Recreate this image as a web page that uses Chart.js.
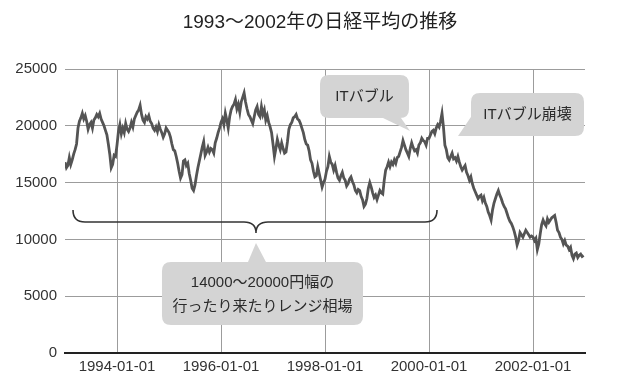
<!DOCTYPE html>
<html>
<head>
<meta charset="utf-8">
<script src="https://cdn.jsdelivr.net/npm/chart.js@4.4.1/dist/chart.umd.min.js"></script>
<style>
  html, body { margin: 0; padding: 0; background: #ffffff; }
  #wrap { width: 640px; height: 389px; }
</style>
</head>
<body>
<div id="wrap"><canvas id="c" width="640" height="389"></canvas></div>
<script>
// ---- data (Nikkei 225, roughly 3 readings per month) ----
const startYear = 1993;
const pointsPerYear = 36;
const nikkei1993 = [16800,16300,16500, 17200,16600,17000, 17500,17900,18400, 19800,20400,20700, 21100,20600,20900, 20400,19700,20100, 20300,19800,20500, 20700,21000,20800, 21100,20600,20300, 20000,19600,19200, 18400,17500,16300, 16600,17400,17300];
const nikkei1994 = [18300,19500,20100, 19300,19800,19400, 20200,19700,19500, 19800,20300,19900, 20600,20900,21200, 21400,21800,21000, 20500,20300,20800, 20600,20900,20400, 20200,19800,19600, 19900,19500,20100, 19700,19400,19000, 19300,19800,19600];
const nikkei1995 = [19400,19000,18400, 17900,17800,17300, 16700,16000,15400, 15700,16900,17000, 16500,16700,15800, 15200,14500,14300, 14800,15600,16300, 16900,17500,18100, 18600,17400,17700, 18100,17700,18000, 17900,17600,18500, 18900,19400,19800];
const nikkei1996 = [20300,20600,20100, 21100,20500,19800, 20800,21400,21700, 21900,22300,21500, 21900,21200,22100, 22500,22900,22100, 21500,21000,20800, 20500,20200,20800, 21400,21700,21000, 20800,21700,21000, 21400,20500,20900, 20300,19900,19400];
const nikkei1997 = [18400,17300,18000, 18800,18300,17900, 18500,18000,17600, 17700,18600,19700, 20100,20300,20700, 20800,21000,20600, 20500,20200,19800, 19400,18800,18400, 18300,17800,17000, 16700,16000,15500, 15600,16400,15800, 15200,14600,15000];
const nikkei1998 = [15300,16000,16400, 17300,16800,16600, 16100,16500,15900, 15400,15200,15600, 15900,15400,15200, 14700,14900,15300, 15500,15100,14800, 14300,14100,14400, 14300,13800,13500, 12900,13100,13600, 14500,15000,14600, 14100,13700,13900];
const nikkei1999 = [13500,13900,14300, 14100,14000,15200, 16100,16400,16800, 16400,16800,16600, 17000,16700,17200, 17300,17700,18100, 18700,18300,17900, 17600,17300,18000, 18500,18100,17800, 17900,17600,18300, 18500,18900,18700, 18600,18300,18900];
const nikkei2000 = [18900,19200,19500, 19600,19300,19800, 20100,19900,20400, 21100,19900,18300, 17900,17200,17000, 17300,17600,17100, 17200,16900,17300, 16800,16400,16100, 16300,16500,15900, 15600,15200,15500, 14900,14500,14200, 13900,13600,13800];
const nikkei2001 = [13900,13400,13700, 13200,12900,12400, 12100,11700,12600, 13200,13600,14000, 14300,13900,13600, 13200,12900,12700, 12300,11900,11600, 11400,11100,10700, 10200,9500,9900, 10600,10400,10200, 10500,10800,10600, 10400,10200,10300];
const nikkei2002 = [10200,9900,10100, 9100,9600,10500, 11300,11700,11400, 11200,11800,11500, 11700,11900,12000, 12100,11500,10800, 10600,10200,10000, 9600,9900,9500, 9400,9100,9300, 8600,8300,8700, 8800,8400,8600, 8700,8500,8600];
const yearlySeries = [nikkei1993, nikkei1994, nikkei1995, nikkei1996, nikkei1997, nikkei1998, nikkei1999, nikkei2000, nikkei2001, nikkei2002];

const xTickYears = [1994, 1996, 1998, 2000, 2002];
const xTickLabels = ['1994-01-01', '1996-01-01', '1998-01-01', '2000-01-01', '2002-01-01'];
const yTicks = [0, 5000, 10000, 15000, 20000, 25000];

const titleText = '1993～2002年の日経平均の推移';
const rangeLines = ['14000～20000円幅の', '行ったり来たりレンジ相場'];
const bubbleText = 'ITバブル';
const crashText = 'ITバブル崩壊';

const points = yearlySeries.flatMap((arr, yi) =>
  arr.map((v, i) => ({ x: startYear + yi + i / pointsPerYear, y: v })));

const FONT = '"Liberation Sans", "Noto Sans CJK JP", Arial, sans-serif';

// ---- annotations, positioned in data units (year, yen) ----
const notes = {
  brace: { x0: 1993.154, x1: 2000.154, xm: 1996.673, y: 11530 },
  range: { x0: 1994.865, x1: 1998.731, top: 8010, bottom: 2465,
           tail: [[1996.519, 8010], [1996.673, 9683], [1996.865, 8010]],
           tx: 1996.798, ty: [6162, 4049] },
  bubble: { x0: 1997.904, x1: 1999.615, top: 24472, bottom: 20687,
            tail: [[1999.115, 20687], [1999.635, 19542], [1999.462, 20687]],
            tx: 1998.76, ty: 22535 },
  crash: { x0: 2000.808, x1: 2002.981, top: 22887, bottom: 19102,
           tail: [[2000.846, 21039], [2000.558, 19102], [2001.212, 19102]],
           tx: 2001.894, ty: 20951 }
};

function roundRect(ctx, x, y, w, h, r) {
  ctx.moveTo(x + r, y);
  ctx.lineTo(x + w - r, y);
  ctx.quadraticCurveTo(x + w, y, x + w, y + r);
  ctx.lineTo(x + w, y + h - r);
  ctx.quadraticCurveTo(x + w, y + h, x + w - r, y + h);
  ctx.lineTo(x + r, y + h);
  ctx.quadraticCurveTo(x, y + h, x, y + h - r);
  ctx.lineTo(x, y + r);
  ctx.quadraticCurveTo(x, y, x + r, y);
  ctx.closePath();
}

const annotationPlugin = {
  id: 'notes',
  afterDatasetsDraw(chart) {
    const ctx = chart.ctx;
    const xs = chart.scales.x, ys = chart.scales.y;
    const px = v => xs.getPixelForValue(v);
    const py = v => ys.getPixelForValue(v);
    ctx.save();

    // brace
    const b = notes.brace;
    const xL = px(b.x0), xR = px(b.x1), xM = px(b.xm), yH = py(b.y);
    const r = 12;
    ctx.beginPath();
    ctx.moveTo(xL, yH - r);
    ctx.quadraticCurveTo(xL, yH, xL + r, yH);
    ctx.lineTo(xM - r, yH);
    ctx.quadraticCurveTo(xM, yH, xM, yH + 11);
    ctx.quadraticCurveTo(xM, yH, xM + r, yH);
    ctx.lineTo(xR - r, yH);
    ctx.quadraticCurveTo(xR, yH, xR, yH - r);
    ctx.strokeStyle = '#333333';
    ctx.lineWidth = 1.6;
    ctx.stroke();

    // callouts
    const callout = (c) => {
      const x0 = px(c.x0), x1 = px(c.x1), y0 = py(c.top), y1 = py(c.bottom);
      ctx.fillStyle = '#d4d4d4';
      ctx.beginPath();
      roundRect(ctx, x0, y0, x1 - x0, y1 - y0, 9);
      ctx.fill();
      ctx.beginPath();
      c.tail.forEach((p, i) => {
        const X = px(p[0]), Y = py(p[1]);
        if (i === 0) ctx.moveTo(X, Y); else ctx.lineTo(X, Y);
      });
      ctx.closePath();
      ctx.fill();
    };
    callout(notes.range);
    callout(notes.bubble);
    callout(notes.crash);

    ctx.fillStyle = '#2b2b2b';
    ctx.font = '15px ' + FONT;
    ctx.textAlign = 'center';
    ctx.textBaseline = 'middle';
    rangeLines.forEach((t, i) => ctx.fillText(t, px(notes.range.tx), py(notes.range.ty[i])));
    ctx.fillText(bubbleText, px(notes.bubble.tx), py(notes.bubble.ty));
    ctx.fillText(crashText, px(notes.crash.tx), py(notes.crash.ty));
    ctx.restore();
  }
};

new Chart(document.getElementById('c'), {
  type: 'line',
  data: {
    datasets: [{
      data: points,
      borderColor: '#545454',
      borderWidth: 2.8,
      pointRadius: 0,
      tension: 0,
      fill: false,
      yAxisID: 'y'
    }]
  },
  options: {
    responsive: false,
    animation: false,
    events: [],
    parsing: false,
    layout: { padding: { left: 0, right: 0, top: 0, bottom: 0 } },
    plugins: {
      legend: { display: false },
      tooltip: { enabled: false },
      title: {
        display: true,
        text: titleText,
        color: '#222222',
        font: { family: FONT, size: 19, weight: 'normal', lineHeight: 1.2 },
        padding: { top: 11, bottom: 35.2 }
      }
    },
    scales: {
      x: {
        type: 'linear',
        min: 1993,
        max: 2003,
        afterBuildTicks: s => { s.ticks = xTickYears.map(v => ({ value: v })); },
        afterFit: s => { s.height = 36; },
        ticks: {
          autoSkip: false,
          maxRotation: 0,
          padding: 5,
          color: '#333333',
          font: { family: FONT, size: 15 },
          callback: (v) => xTickLabels[xTickYears.indexOf(v)]
        },
        grid: { color: '#9c9c9c', lineWidth: 1, drawTicks: false },
        border: { display: true, color: '#222222', width: 2 }
      },
      y: {
        min: 0,
        max: 25000,
        afterBuildTicks: s => { s.ticks = yTicks.map(v => ({ value: v })); },
        afterFit: s => { s.width = 65; },
        ticks: {
          padding: 8,
          color: '#333333',
          font: { family: FONT, size: 15 },
          callback: v => String(v)
        },
        grid: { color: '#9c9c9c', lineWidth: 1, drawTicks: false },
        border: { display: false }
      },
      yRight: {
        position: 'right',
        min: 0,
        max: 25000,
        afterFit: s => { s.width = 55; },
        ticks: { display: false },
        grid: { display: false, drawTicks: false },
        border: { display: false }
      }
    }
  },
  plugins: [annotationPlugin]
});
</script>
</body>
</html>
